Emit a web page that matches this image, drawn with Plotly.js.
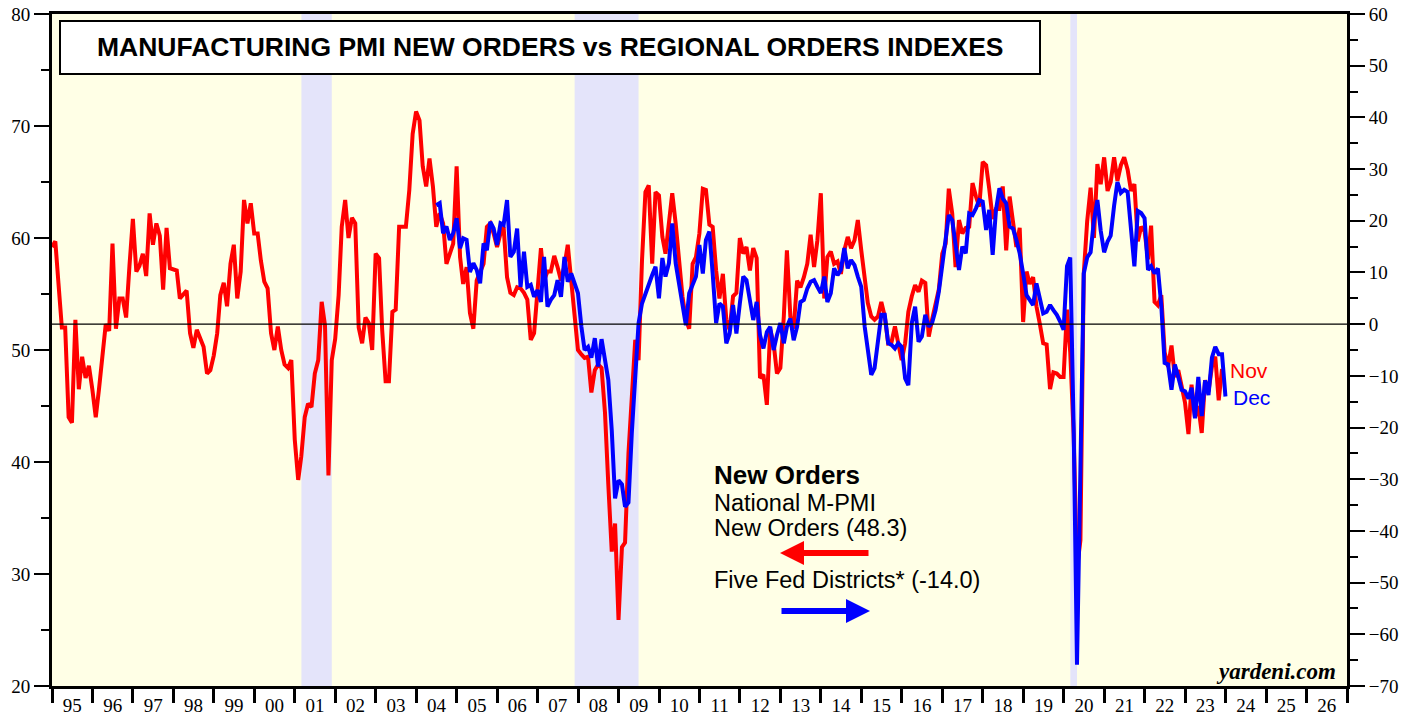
<!DOCTYPE html>
<html><head><meta charset="utf-8">
<script src="https://cdn.plot.ly/plotly-3.0.1.min.js"></script>
<style>html,body{margin:0;padding:0;background:#fff}#chart{width:1413px;height:717px}</style>
</head><body><div id="chart"></div>
<script>
// National ISM M-PMI New Orders, monthly, Dec 1994 .. Nov 2023 (left axis)
const pmiFirstMonth = [1994, 12];
const pmiNewOrders = [
59.2,59.7,56.0,52.0,52.0,44.0,43.5,52.7,46.5,49.4,47.5,48.6,
46.5,44.0,46.5,49.5,52.3,51.7,59.5,51.9,54.6,54.6,52.9,57.5,
61.7,57.0,57.5,58.6,56.6,62.2,59.4,61.3,60.2,55.4,60.9,57.3,
57.2,57.1,54.6,54.9,55.3,51.5,50.2,51.8,51.1,50.3,47.9,48.2,
49.5,51.5,54.9,56.0,53.9,57.7,59.4,54.6,57.0,63.4,61.3,63.1,
60.4,60.4,58.0,56.1,55.5,51.5,50.0,52.1,50.0,48.7,48.4,49.1,
42.0,38.4,40.5,44.0,45.2,44.9,47.9,49.1,54.3,52.2,38.8,49.1,
51.0,54.9,61.0,63.4,60.0,61.8,61.3,52.0,50.6,52.9,52.4,50.0,
58.6,58.2,51.8,47.2,47.2,53.4,53.6,61.0,61.0,61.0,64.3,69.3,
71.3,70.5,66.4,64.6,67.1,64.6,61.0,62.2,61.3,57.7,58.6,59.5,
66.4,58.3,55.9,57.4,53.3,51.9,56.2,57.0,57.7,61.0,61.3,60.4,
59.2,60.4,61.0,56.5,55.1,54.9,55.6,55.5,55.1,54.5,50.9,51.5,
55.9,59.1,56.2,57.0,57.0,58.4,57.4,56.2,57.5,59.4,56.2,53.5,
50.0,49.6,49.3,49.4,46.2,48.2,48.7,48.4,44.4,38.0,32.0,34.5,
25.9,32.4,32.8,40.8,46.4,50.9,49.1,58.0,64.1,64.7,57.7,64.1,
63.8,60.1,58.6,61.0,64.0,61.3,58.3,54.8,52.7,51.9,57.7,58.3,
60.4,64.4,64.3,61.2,61.0,57.1,54.6,56.8,52.7,51.8,54.8,55.1,
60.0,58.6,59.2,57.1,59.1,58.2,47.5,47.8,45.1,51.8,50.6,47.9,
48.4,53.0,58.9,53.0,51.9,56.2,55.6,56.5,57.7,60.3,57.4,59.8,
64.0,54.6,58.3,58.8,57.7,57.9,56.8,58.9,60.1,59.1,59.8,61.6,
58.9,56.2,54.2,53.0,52.7,53.0,54.3,53.0,50.6,50.7,52.1,50.6,
49.1,50.6,53.4,54.8,55.8,55.2,56.2,56.0,51.2,52.7,53.9,55.4,
58.6,59.5,64.4,62.2,57.4,61.6,60.4,60.9,61.0,64.9,63.7,62.8,
66.8,66.5,64.4,61.7,62.6,62.6,64.6,58.9,63.7,61.3,59.2,60.9,
52.5,57.0,55.9,56.5,53.9,52.3,50.6,50.5,46.5,48.0,47.9,47.6,
47.6,53.6,49.8,42.5,30.5,33.0,56.8,61.5,64.5,60.0,66.6,64.8,
67.2,64.2,65.0,67.2,65.1,66.5,67.2,66.1,64.2,64.8,59.7,61.0,
60.6,58.1,61.1,54.3,54.0,54.9,49.8,48.5,50.4,47.6,48.2,46.8,
45.3,42.5,46.9,44.0,45.0,42.6,47.3,46.3,48.5,49.4,45.5,48.3
];
// Average of five regional Fed districts new orders, monthly, Jun 2004 .. Dec 2023 (right axis)
const fedFirstMonth = [2004, 6];
const fedDistricts = [
23.0,23.4,17.6,18.9,16.3,17.6,
20.5,14.7,16.6,16.3,10.1,11.8,10.5,7.9,15.6,14.3,19.8,18.5,
15.3,19.5,19.2,24.0,13.0,14.0,18.5,7.2,14.0,7.2,7.6,5.3,
6.6,4.3,13.0,3.4,4.7,5.6,8.5,5.3,13.0,8.2,9.8,7.9,
6.0,-0.5,-5.0,-4.4,-6.5,-2.7,-8.2,-2.9,-6.9,-10.8,-20.5,-33.7,
-30.2,-31.0,-35.3,-34.5,-21.1,-10.8,0.2,4.0,6.0,7.9,9.5,11.1,
5.0,12.8,9.2,11.8,19.5,11.8,7.9,3.4,-0.2,6.0,7.6,9.2,
15.3,9.8,16.3,17.9,9.8,0.2,4.0,3.4,-3.7,-1.8,3.7,-1.8,
4.0,9.2,8.5,4.7,0.8,4.3,-2.1,-4.7,-1.5,-0.5,-5.0,-2.1,
0.2,-3.7,-0.5,1.1,-3.1,-0.5,4.3,4.7,6.9,8.2,8.5,7.2,
6.0,9.2,4.3,6.0,10.8,9.5,10.5,14.7,10.8,12.4,11.4,9.2,
7.2,-0.5,-4.7,-9.8,-8.5,-3.4,1.8,1.8,-3.7,-4.0,-4.7,-3.7,
-4.4,-10.5,-11.8,0.2,3.4,-3.4,-2.4,1.8,-0.5,0.2,2.7,6.3,
11.8,16.3,21.1,20.1,15.6,10.5,15.0,13.7,21.4,21.1,22.4,24.0,
23.7,18.2,22.1,13.4,22.1,26.3,24.3,23.4,18.9,18.5,16.3,13.7,
9.8,5.6,4.7,3.7,7.9,5.3,2.1,2.4,3.7,2.7,1.8,0.5,
-1.1,11.2,12.9,-20.0,-65.9,-28.0,9.8,12.9,13.9,20.1,24.0,18.1,
13.9,16.0,17.1,22.9,27.5,25.4,26.0,25.6,18.8,11.2,21.9,21.5,
20.5,10.5,11.2,9.8,10.8,3.6,-7.5,-7.8,-12.7,-7.8,-10.2,-12.7,
-13.0,-14.4,-12.3,-18.2,-10.2,-17.8,-10.9,-13.7,-6.5,-4.4,-5.8,-5.8,
-14.0
];
const yearLabels = ['95','96','97','98','99','00','01','02','03','04','05','06','07','08','09','10',
  '11','12','13','14','15','16','17','18','19','20','21','22','23','24','25','26'];
const firstYear = 1995;
const recessions = [['2001-03-01','2001-11-30'],['2007-12-01','2009-06-30'],['2020-03-01','2020-04-30']];

function monthEnds(first, n) {
  const out = [];
  for (let k = 0; k < n; k++) {
    const d = new Date(Date.UTC(first[0], first[1] + k, 0));
    out.push(d.toISOString().slice(0, 10));
  }
  return out;
}

const W = 1413, H = 717, L = 52, R = 66, T = 14, B = 31;
const pw = W - L - R, ph = H - T - B;
const px = x => (x - L) / pw;
const py = y => (H - B - y) / ph;

const SANS = 'Liberation Sans, Arial, sans-serif';
const SERIF = 'Liberation Serif, Times New Roman, serif';

const traces = [
  {x: monthEnds(pmiFirstMonth, pmiNewOrders.length), y: pmiNewOrders, type: 'scatter', mode: 'lines',
   line: {color: '#ff0000', width: 4}, yaxis: 'y', hoverinfo: 'skip'},
  {x: monthEnds(fedFirstMonth, fedDistricts.length), y: fedDistricts, type: 'scatter', mode: 'lines',
   line: {color: '#0000ff', width: 4}, yaxis: 'y2', hoverinfo: 'skip'}
];

const shapes = recessions.map(r => ({type: 'rect', xref: 'x', yref: 'paper', x0: r[0], x1: r[1], y0: 0, y1: 1,
  fillcolor: 'rgb(228,228,250)', line: {width: 0}, layer: 'below'}));
shapes.push({type: 'line', xref: 'paper', yref: 'y2', x0: 0, x1: 1, y0: 0, y1: 0, line: {color: '#000', width: 1.2}});
shapes.push({type: 'rect', xref: 'paper', yref: 'paper', x0: px(60), x1: px(1040), y0: py(74), y1: py(21),
  fillcolor: '#ffffff', line: {color: '#000', width: 2}});

const ann = (text, x, y, opts) => Object.assign({text, xref: 'paper', yref: 'paper', x: px(x), y: py(y),
  showarrow: false, xanchor: 'left', yanchor: 'middle'}, opts);

const annotations = [
  ann('<b>MANUFACTURING PMI NEW ORDERS vs REGIONAL ORDERS INDEXES</b>', 550, 47,
      {xanchor: 'center', font: {family: SANS, size: 26.5, color: '#000'}}),
  ann('<b>New Orders</b>', 712, 475, {font: {family: SANS, size: 26, color: '#000'}}),
  ann('National M-PMI', 712, 503, {font: {family: SANS, size: 23.5, color: '#000'}}),
  ann('New Orders (48.3)', 712, 528, {font: {family: SANS, size: 23.5, color: '#000'}}),
  ann('Five Fed Districts* (-14.0)', 712, 580, {font: {family: SANS, size: 23.5, color: '#000'}}),
  ann('Nov', 1228, 370, {font: {family: SANS, size: 21, color: '#ff0000'}}),
  ann('Dec', 1231, 397, {font: {family: SANS, size: 21, color: '#0000ff'}}),
  ann('<b><i>yardeni.com</i></b>', 1338, 671, {xanchor: 'right', font: {family: SERIF, size: 23, color: '#000'}}),
  {xref: 'paper', yref: 'paper', x: px(780), y: py(553), ax: 90, ay: 0, text: '', showarrow: true,
   arrowhead: 2, arrowsize: 0.8, arrowwidth: 6, arrowcolor: '#ff0000'},
  {xref: 'paper', yref: 'paper', x: px(870), y: py(611), ax: -90, ay: 0, text: '', showarrow: true,
   arrowhead: 2, arrowsize: 0.8, arrowwidth: 6, arrowcolor: '#0000ff'}
];

const yearStarts = yearLabels.map((t, k) => `${firstYear + k}-01-01`).concat([`${firstYear + yearLabels.length}-01-01`]);
const yearMids = yearLabels.map((t, k) => `${firstYear + k}-07-02`);

const tickFont = {family: SERIF, size: 19, color: '#000'};
const layout = {
  width: W, height: H, margin: {l: L, r: R, t: T, b: B},
  paper_bgcolor: '#ffffff', plot_bgcolor: 'rgb(255,255,230)',
  showlegend: false,
  xaxis: {type: 'date', range: ['1995-01-01', '2027-01-01'], showgrid: false, zeroline: false,
    showline: true, linewidth: 3, linecolor: '#000', mirror: true,
    tickmode: 'array', tickvals: yearMids, ticktext: yearLabels, ticks: '', tickfont: tickFont,
    minor: {tickmode: 'array', tickvals: yearStarts, ticks: 'outside', ticklen: 14, tickwidth: 3, tickcolor: '#000', showgrid: false}},
  yaxis: {range: [20, 80], tick0: 20, dtick: 10, showgrid: false, zeroline: false,
    showline: true, linewidth: 3, linecolor: '#000', ticks: 'outside', ticklen: 15, tickwidth: 2, tickcolor: '#000',
    tickfont: tickFont, minor: {dtick: 5, ticks: 'outside', ticklen: 8, tickwidth: 2, tickcolor: '#000', showgrid: false}},
  yaxis2: {range: [-70, 60], tick0: -70, dtick: 10, overlaying: 'y', side: 'right', showgrid: false, zeroline: false,
    showline: true, linewidth: 3, linecolor: '#000', ticks: 'outside', ticklen: 15, tickwidth: 2, tickcolor: '#000',
    tickfont: tickFont, minor: {dtick: 5, ticks: 'outside', ticklen: 8, tickwidth: 2, tickcolor: '#000', showgrid: false}},
  shapes, annotations
};

Plotly.newPlot('chart', traces, layout, {staticPlot: true, displayModeBar: false});
</script>
</body></html>
